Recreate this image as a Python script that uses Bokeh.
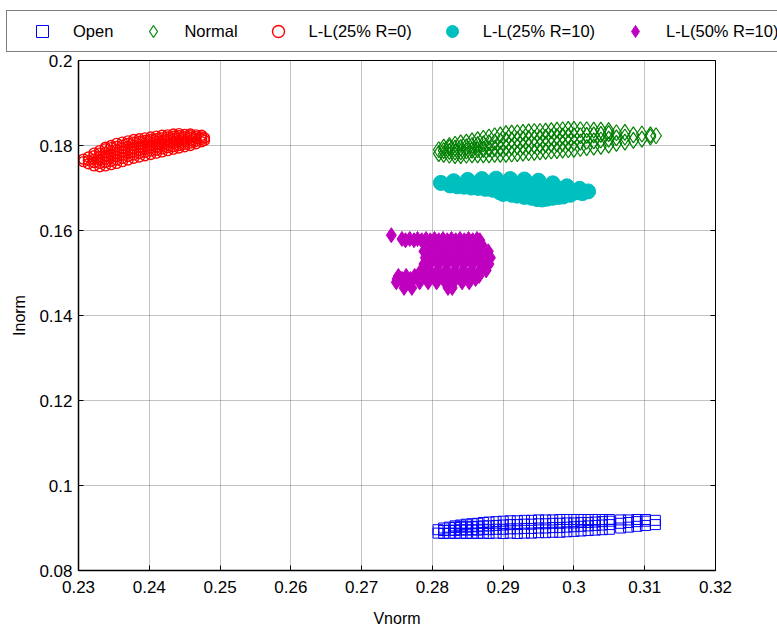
from bokeh.plotting import figure
from bokeh.layouts import column
from bokeh.models import (Range1d, FixedTicker, CustomJSTickFormatter, Legend,
                          LegendItem, LinearAxis)
from bokeh.embed import file_html
from bokeh.resources import INLINE

# ---------------- data ----------------
x_ticks = [0.23, 0.24, 0.25, 0.26, 0.27, 0.28, 0.29, 0.30, 0.31, 0.32]
y_ticks = [0.08, 0.10, 0.12, 0.14, 0.16, 0.18, 0.20]

series_names = ["Open", "Normal", "L-L(25% R=0)", "L-L(25% R=10)", "L-L(50% R=10)"]

# Open : columns (Vnorm, [Inorm values])
open_cols = [
    (0.2808, [0.0888, 0.0896]),
    (0.2816, [0.0887, 0.0894, 0.0900]),
    (0.2824, [0.0888, 0.0895, 0.0902]),
    (0.2832, [0.0887, 0.0894, 0.0901, 0.0905]),
    (0.2840, [0.0888, 0.0896, 0.0903, 0.0907]),
    (0.2848, [0.0887, 0.0895, 0.0902, 0.0909]),
    (0.2856, [0.0888, 0.0896, 0.0904, 0.0910]),
    (0.2864, [0.0887, 0.0895, 0.0903, 0.0911]),
    (0.2872, [0.0888, 0.0897, 0.0905, 0.0913]),
    (0.2880, [0.0887, 0.0896, 0.0905, 0.0914]),
    (0.2890, [0.0888, 0.0897, 0.0906, 0.0915]),
    (0.2900, [0.0887, 0.0897, 0.0907, 0.0916]),
    (0.2910, [0.0888, 0.0898, 0.0908, 0.0917]),
    (0.2920, [0.0887, 0.0898, 0.0908, 0.0917]),
    (0.2930, [0.0888, 0.0899, 0.0909, 0.0918]),
    (0.2940, [0.0888, 0.0899, 0.0909, 0.0918]),
    (0.2950, [0.0889, 0.0900, 0.0910, 0.0919]),
    (0.2960, [0.0889, 0.0900, 0.0910, 0.0919]),
    (0.2970, [0.0890, 0.0901, 0.0911, 0.0919]),
    (0.2980, [0.0890, 0.0901, 0.0911, 0.0920]),
    (0.2990, [0.0891, 0.0902, 0.0912, 0.0920]),
    (0.3000, [0.0892, 0.0903, 0.0912, 0.0920]),
    (0.3010, [0.0893, 0.0904, 0.0913, 0.0920]),
    (0.3020, [0.0894, 0.0905, 0.0913, 0.0920]),
    (0.3030, [0.0895, 0.0906, 0.0914, 0.0920]),
    (0.3040, [0.0896, 0.0907, 0.0915, 0.0920]),
    (0.3050, [0.0897, 0.0908, 0.0916, 0.0920]),
    (0.3066, [0.0900, 0.0911, 0.0919]),
    (0.3077, [0.0902, 0.0913, 0.0919]),
    (0.3089, [0.0904, 0.0915, 0.0920]),
    (0.3101, [0.0906, 0.0916, 0.0920]),
    (0.3115, [0.0908, 0.0918]),
]

# Normal
normal_cols = [
    (0.2809, [0.1781, 0.1790]),
    (0.2816, [0.1779, 0.1788, 0.1796]),
    (0.2824, [0.1777, 0.1786, 0.1795, 0.1800]),
    (0.2832, [0.1776, 0.1785, 0.1794, 0.1803]),
    (0.2840, [0.1776, 0.1785, 0.1795, 0.1806]),
    (0.2848, [0.1777, 0.1787, 0.1797, 0.1808]),
    (0.2856, [0.1778, 0.1789, 0.1800, 0.1811]),
    (0.2864, [0.1778, 0.1790, 0.1802, 0.1814]),
    (0.2872, [0.1778, 0.1791, 0.1804, 0.1817]),
    (0.2880, [0.1778, 0.1792, 0.1806, 0.1820]),
    (0.2888, [0.1779, 0.1793, 0.1808, 0.1823]),
    (0.2896, [0.1779, 0.1794, 0.1810, 0.1825]),
    (0.2904, [0.1779, 0.1795, 0.1812, 0.1828]),
    (0.2912, [0.1780, 0.1796, 0.1813, 0.1829]),
    (0.2920, [0.1781, 0.1797, 0.1814, 0.1830]),
    (0.2928, [0.1782, 0.1798, 0.1815, 0.1831]),
    (0.2936, [0.1783, 0.1799, 0.1816, 0.1832]),
    (0.2944, [0.1784, 0.1800, 0.1817, 0.1833]),
    (0.2952, [0.1785, 0.1801, 0.1818, 0.1833]),
    (0.2960, [0.1786, 0.1802, 0.1819, 0.1834]),
    (0.2968, [0.1787, 0.1803, 0.1820, 0.1835]),
    (0.2976, [0.1788, 0.1804, 0.1821, 0.1836]),
    (0.2984, [0.1789, 0.1805, 0.1822, 0.1837]),
    (0.2992, [0.1790, 0.1806, 0.1822, 0.1838]),
    (0.3000, [0.1791, 0.1807, 0.1823, 0.1838]),
    (0.3009, [0.1793, 0.1808, 0.1823, 0.1837]),
    (0.3018, [0.1795, 0.1810, 0.1824, 0.1837]),
    (0.3028, [0.1796, 0.1811, 0.1825, 0.1836]),
    (0.3038, [0.1798, 0.1813, 0.1826, 0.1836]),
    (0.3049, [0.1801, 0.1815, 0.1828, 0.1835]),
    (0.3060, [0.1805, 0.1818, 0.1830]),
    (0.3072, [0.1808, 0.1820, 0.1831]),
    (0.3084, [0.1812, 0.1825]),
    (0.3096, [0.1815, 0.1827]),
    (0.3108, [0.1820, 0.1825]),
    (0.3116, [0.1823]),
]

# L-L(25% R=0)
ll25r0_cols = [
    (0.2307, [0.1762, 0.1768]),
    (0.2314, [0.1757, 0.1765, 0.1773]),
    (0.2322, [0.1752, 0.1760, 0.1768, 0.1776, 0.1782]),
    (0.2330, [0.1750, 0.1758, 0.1766, 0.1774, 0.1782, 0.1788]),
    (0.2338, [0.1752, 0.1760, 0.1768, 0.1776, 0.1784, 0.1792, 0.1796]),
    (0.2346, [0.1755, 0.1763, 0.1771, 0.1779, 0.1787, 0.1795, 0.1800]),
    (0.2354, [0.1758, 0.1766, 0.1774, 0.1782, 0.1790, 0.1798, 0.1805]),
    (0.2362, [0.1762, 0.1770, 0.1778, 0.1786, 0.1794, 0.1801, 0.1808]),
    (0.2370, [0.1766, 0.1774, 0.1782, 0.1790, 0.1798, 0.1805, 0.1811]),
    (0.2378, [0.1770, 0.1778, 0.1785, 0.1793, 0.1801, 0.1808, 0.1814]),
    (0.2386, [0.1773, 0.1781, 0.1788, 0.1796, 0.1803, 0.1810, 0.1816]),
    (0.2394, [0.1776, 0.1784, 0.1791, 0.1799, 0.1806, 0.1812, 0.1818]),
    (0.2402, [0.1779, 0.1787, 0.1794, 0.1801, 0.1808, 0.1814, 0.1820]),
    (0.2410, [0.1782, 0.1789, 0.1796, 0.1803, 0.1810, 0.1816, 0.1822]),
    (0.2418, [0.1785, 0.1792, 0.1799, 0.1806, 0.1812, 0.1818, 0.1824]),
    (0.2426, [0.1788, 0.1795, 0.1801, 0.1808, 0.1814, 0.1820, 0.1825]),
    (0.2434, [0.1791, 0.1797, 0.1804, 0.1810, 0.1816, 0.1822, 0.1827]),
    (0.2442, [0.1794, 0.1800, 0.1806, 0.1812, 0.1818, 0.1823, 0.1828]),
    (0.2450, [0.1797, 0.1803, 0.1809, 0.1815, 0.1821, 0.1826]),
    (0.2458, [0.1800, 0.1806, 0.1812, 0.1818, 0.1823, 0.1827]),
    (0.2466, [0.1804, 0.1810, 0.1816, 0.1821, 0.1825]),
    (0.2474, [0.1809, 0.1815, 0.1820, 0.1824]),
    (0.2478, [0.1812, 0.1818]),
]

# L-L(25% R=10) : (Vnorm, Inorm) points
ll25r10_pts = [
    (0.2812, 0.1712), (0.2830, 0.1716), (0.2850, 0.1719), (0.2870, 0.1721),
    (0.2890, 0.1722), (0.2910, 0.1721), (0.2930, 0.1720), (0.2950, 0.1717),
    (0.2970, 0.1711), (0.2990, 0.1704), (0.3008, 0.1698), (0.3020, 0.1692),
    (0.2825, 0.1706), (0.2845, 0.1703), (0.2865, 0.1700), (0.2885, 0.1696),
    (0.2905, 0.1692), (0.2925, 0.1688), (0.2945, 0.1685), (0.2965, 0.1688),
    (0.2985, 0.1690), (0.3005, 0.1690),
    (0.2900, 0.1686), (0.2920, 0.1682), (0.2940, 0.1677), (0.2955, 0.1673),
    (0.2970, 0.1677), (0.2985, 0.1680),
    (0.2880, 0.1708), (0.2900, 0.1706), (0.2920, 0.1704), (0.2940, 0.1702),
    (0.2960, 0.1700), (0.2980, 0.1698), (0.2930, 0.1695),
    (0.2835, 0.1704), (0.2855, 0.1701), (0.2875, 0.1698), (0.2895, 0.1690),
    (0.2912, 0.1684), (0.2930, 0.1679), (0.2948, 0.1674), (0.2962, 0.1675),
    (0.2978, 0.1679), (0.2995, 0.1684), (0.3012, 0.1688),
]

# L-L(50% R=10) : rows (Inorm, [Vnorm values])
ll50r10_rows = [
    (0.1589, [0.2742]),
    (0.1580, [0.2757, 0.2768, 0.2779, 0.2791, 0.2803, 0.2815, 0.2827, 0.2839, 0.2851, 0.2863]),
    (0.1577, [0.2762, 0.2774, 0.2785, 0.2797, 0.2809, 0.2821, 0.2833, 0.2845, 0.2857, 0.2867]),
    (0.1566, [0.2789, 0.2800, 0.2812, 0.2824, 0.2836, 0.2848, 0.2860, 0.2870]),
    (0.1551, [0.2788, 0.2797, 0.2809, 0.2821, 0.2833, 0.2845, 0.2857, 0.2869, 0.2879]),
    (0.1536, [0.2790, 0.2803, 0.2815, 0.2827, 0.2839, 0.2851, 0.2863, 0.2875, 0.2882]),
    (0.1521, [0.2788, 0.2797, 0.2809, 0.2821, 0.2833, 0.2845, 0.2857, 0.2869, 0.2880]),
    (0.1506, [0.2784, 0.2795, 0.2807, 0.2819, 0.2831, 0.2843, 0.2855, 0.2867, 0.2876]),
    (0.1493, [0.2752, 0.2763, 0.2775, 0.2786, 0.2798, 0.2810, 0.2822, 0.2834, 0.2846, 0.2858, 0.2866]),
    (0.1486, [0.2750, 0.2757, 0.2769, 0.2780, 0.2792, 0.2804, 0.2816, 0.2828, 0.2840, 0.2852, 0.2861]),
    (0.1478, [0.2749, 0.2758, 0.2770, 0.2782, 0.2794, 0.2806, 0.2818, 0.2830, 0.2842, 0.2852]),
    (0.1465, [0.2760, 0.2771, 0.2822, 0.2828]),
]

# ---------------- build columns for the library ----------------
def from_cols(cols):
    xs = [x for x, ys in cols for _ in ys]
    ys = [y for _, yl in cols for y in yl]
    return xs, ys

open_x, open_y = from_cols(open_cols)
normal_x, normal_y = from_cols(normal_cols)
r0_x, r0_y = from_cols(ll25r0_cols)
r10_x = [a for a, _ in ll25r10_pts]
r10_y = [b for _, b in ll25r10_pts]
m_x = [x for y, xl in ll50r10_rows for x in xl]
m_y = [y for y, xl in ll50r10_rows for _ in xl]

FONT = "Liberation Sans"

styles = [
    dict(marker="square", size=10, line_color="#0000ff", fill_color=None, line_width=1),
    dict(marker="diamond", size=16, line_color="#008000", fill_color=None, line_width=1.2),
    dict(marker="circle", size=10, line_color="#ff0000", fill_color=None, line_width=1.4),
    dict(marker="circle", size=15, line_color="#00bfbf", fill_color="#00bfbf", line_width=1),
    dict(marker="diamond", size=15, line_color="#bf00bf", fill_color="#bf00bf", line_width=1),
]
data_xy = [(open_x, open_y), (normal_x, normal_y), (r0_x, r0_y),
           (r10_x, r10_y), (m_x, m_y)]

# ---------------- legend strip (top) ----------------
# same series are drawn here only to feed the legend; its y range keeps them hidden
LEG_H = 52
lg = figure(width=777, height=LEG_H, output_backend="svg", toolbar_location=None,
            x_range=Range1d(0.23, 0.32), y_range=Range1d(1.0, 2.0),
            x_axis_location=None, y_axis_location=None,
            min_border_left=0, min_border_right=0, min_border_top=0,
            min_border_bottom=0, outline_line_color=None, frame_align=False,
            background_fill_color="white", border_fill_color="white")
lg.grid.visible = False
leg_renderers = [lg.scatter(xs, ys, **st) for (xs, ys), st in zip(data_xy, styles)]
legend = Legend(items=[LegendItem(label=n, renderers=[r])
                       for n, r in zip(series_names, leg_renderers)],
                orientation="horizontal", location=(6, 0))
legend.label_text_font = FONT
legend.label_text_font_size = "16.5px"
legend.label_text_color = "black"
legend.glyph_width = 60
legend.glyph_height = 30
legend.label_standoff = 1
legend.spacing = 10
legend.padding = 5
legend.margin = 0
legend.border_line_color = "black"
legend.border_line_width = 1.5
legend.background_fill_color = "white"
legend.background_fill_alpha = 1
lg.add_layout(legend, "center")

# ---------------- main plot ----------------
p = figure(width=777, height=630 - LEG_H, output_backend="svg", toolbar_location=None,
           x_range=Range1d(0.23, 0.32), y_range=Range1d(0.08, 0.2),
           min_border_left=78, min_border_right=62, min_border_top=60 - LEG_H,
           min_border_bottom=60, background_fill_color="white", frame_align=False,
           border_fill_color="white")
p.outline_line_color = "black"
p.outline_line_width = 1

for (xs, ys), st in zip(data_xy, styles):
    p.scatter(xs, ys, **st)

xt = FixedTicker(ticks=x_ticks, minor_ticks=[])
yt = FixedTicker(ticks=y_ticks, minor_ticks=[])
fmt = CustomJSTickFormatter(code="return String(Math.round(tick*1000)/1000);")

p.xaxis.ticker = xt
p.yaxis.ticker = yt
p.xgrid.ticker = xt
p.ygrid.ticker = yt
p.xaxis.formatter = fmt
p.yaxis.formatter = fmt
p.xaxis.axis_label = "Vnorm"
p.yaxis.axis_label = "Inorm"

for ax in (p.xaxis[0], p.yaxis[0]):
    ax.major_tick_in = 5
    ax.major_tick_out = 0
    ax.minor_tick_line_color = None
    ax.axis_line_color = "black"
    ax.axis_line_width = 1.5
    ax.major_tick_line_color = "black"
    ax.major_label_text_font = FONT
    ax.major_label_text_font_size = "17px"
    ax.major_label_text_color = "black"
    ax.axis_label_text_font = FONT
    ax.axis_label_text_font_size = "16px"
    ax.axis_label_text_font_style = "normal"
    ax.axis_label_text_color = "black"
p.xaxis.major_label_standoff = 10
p.xaxis.axis_label_standoff = 14
p.yaxis.major_label_standoff = 6
p.yaxis.axis_label_standoff = 8

rax = LinearAxis(ticker=yt)
rax.major_tick_in = 5
rax.major_tick_out = 0
rax.minor_tick_line_color = None
rax.axis_line_color = "black"
rax.major_label_text_font_size = "0px"
rax.major_label_text_color = None
p.add_layout(rax, "right")

p.grid.grid_line_color = "#666666"
p.grid.grid_line_dash = "1 1"
p.grid.grid_line_width = 1
p.grid.grid_line_alpha = 0.8

layout = column(lg, p, spacing=0)
open("out.html", "w").write(file_html(layout, INLINE))
